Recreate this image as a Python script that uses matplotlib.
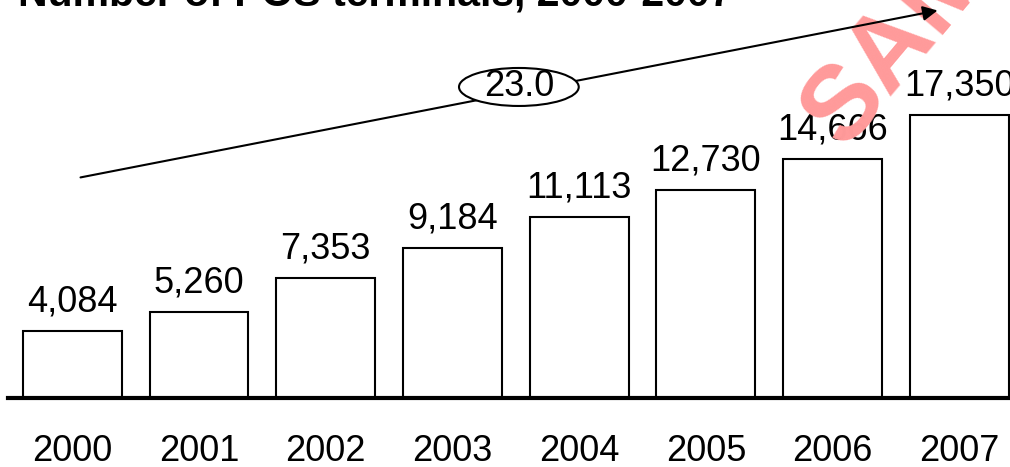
import matplotlib
matplotlib.use('Agg')
from matplotlib import pyplot as plt
from matplotlib.patches import Ellipse

plt.rcParams['font.family'] = ['Liberation Sans', 'DejaVu Sans']

years = ['2000', '2001', '2002', '2003', '2004', '2005', '2006', '2007']
terminals = [4084, 5260, 7353, 9184, 11113, 12730, 14666, 17350]
cagr_label = '23.0'
title = 'Number of POS terminals, 2000-2007'

fig = plt.figure(figsize=(10.1, 4.67), dpi=100)
ax = fig.add_axes([0.0079, 0.1478, 0.9921, 0.8522])

x = list(range(len(years)))
ax.bar(x, terminals, width=0.78, color='white', edgecolor='black', linewidth=1.5, zorder=2)

for xi, v in zip(x, terminals):
    ax.annotate(f'{v:,}', xy=(xi, v), xytext=(0, 14), textcoords='offset points',
                ha='center', va='baseline', fontsize=26, zorder=3)

ax.set_xlim(-0.508, 7.40)
ax.set_ylim(0, 24400)
ax.set_xticks(x)
ax.set_xticklabels(years, fontsize=26)
ax.tick_params(axis='x', length=0, pad=26)
ax.set_yticks([])
for side in ['top', 'right', 'left']:
    ax.spines[side].set_visible(False)
ax.spines['bottom'].set_linewidth(3)
ax.spines['bottom'].set_zorder(4)

# watermark, under the arrow but over the labels
ax.text(0.815, 0.717, 'SAMPLE', transform=fig.transFigure, fontsize=76,
        fontweight='bold', color='#ff9a9a', rotation=50, rotation_mode='anchor',
        ha='left', va='center', zorder=4.5, clip_on=False)

# growth arrow with CAGR bubble
ax.annotate('', xy=(6.85, 23790), xytext=(0.043, 13490),
            arrowprops=dict(arrowstyle='-|>', lw=1.5, color='black', mutation_scale=22),
            annotation_clip=False, zorder=5)
ax.add_patch(Ellipse((3.524, 19068), 0.945, 2330, facecolor='white',
                     edgecolor='black', linewidth=1.5, zorder=6, clip_on=False))
ax.text(3.524, 19068, cagr_label, ha='center', va='center', fontsize=26, zorder=7)

fig.text(0.018, 0.989, title, fontsize=29.5, fontweight='bold', va='baseline')

fig.savefig('out.png', dpi=100)
